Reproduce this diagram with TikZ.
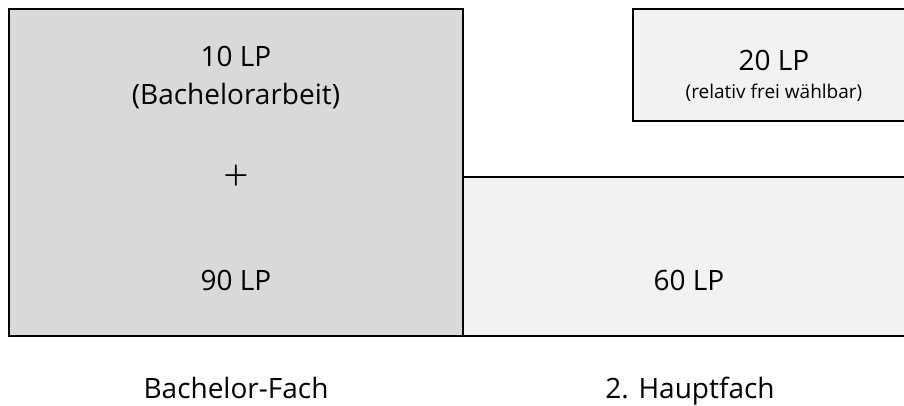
\documentclass[tikz,border=0pt]{standalone}
\usepackage{fontspec}
\setmainfont{Open Sans}
\newfontfamily\plusfont{Open Sans Light}
\definecolor{darkfill}{HTML}{D9D9D9}
\definecolor{lightfill}{HTML}{F2F2F2}
\begin{document}
\begin{tikzpicture}[x=1pt,y=-1pt,
  box/.style={draw=black,line width=2pt,rectangle,inner sep=0pt,outer sep=0pt},
  big/.style={inner sep=0pt,anchor=base,font=\fontsize{28}{34}\selectfont},
  small/.style={inner sep=0pt,anchor=base,font=\fontsize{19}{23}\selectfont},
  plussign/.style={inner sep=0pt,anchor=base,font=\plusfont\fontsize{45}{50}\selectfont}]
\useasboundingbox (0,0) rectangle (904,405);
\node[box,fill=lightfill,minimum width=452pt,minimum height=159pt] (hf) at (689,256.5) {};
\node[box,fill=darkfill,minimum width=454pt,minimum height=327pt] (bf) at (236,172.5) {};
\node[box,fill=lightfill,minimum width=282pt,minimum height=111.5pt] (fw) at (774,64.75) {};
\node[big] (t10) at (236,66) {10 LP};
\node[big] (tba) at (236,104) {(Bachelorarbeit)};
\node[plussign] (plus) at (236,191) {+};
\node[big] (t90) at (236,290) {90 LP};
\node[big] (t60) at (689,290) {60 LP};
\node[big] (t20) at (774,70) {20 LP};
\node[small] (tfrei) at (774,98) {(relativ frei wählbar)};
\node[big] (lbf) at (236,398) {Bachelor-Fach};
\node[big] (lhf) at (690,398) {2. Hauptfach};
\end{tikzpicture}
\end{document}
